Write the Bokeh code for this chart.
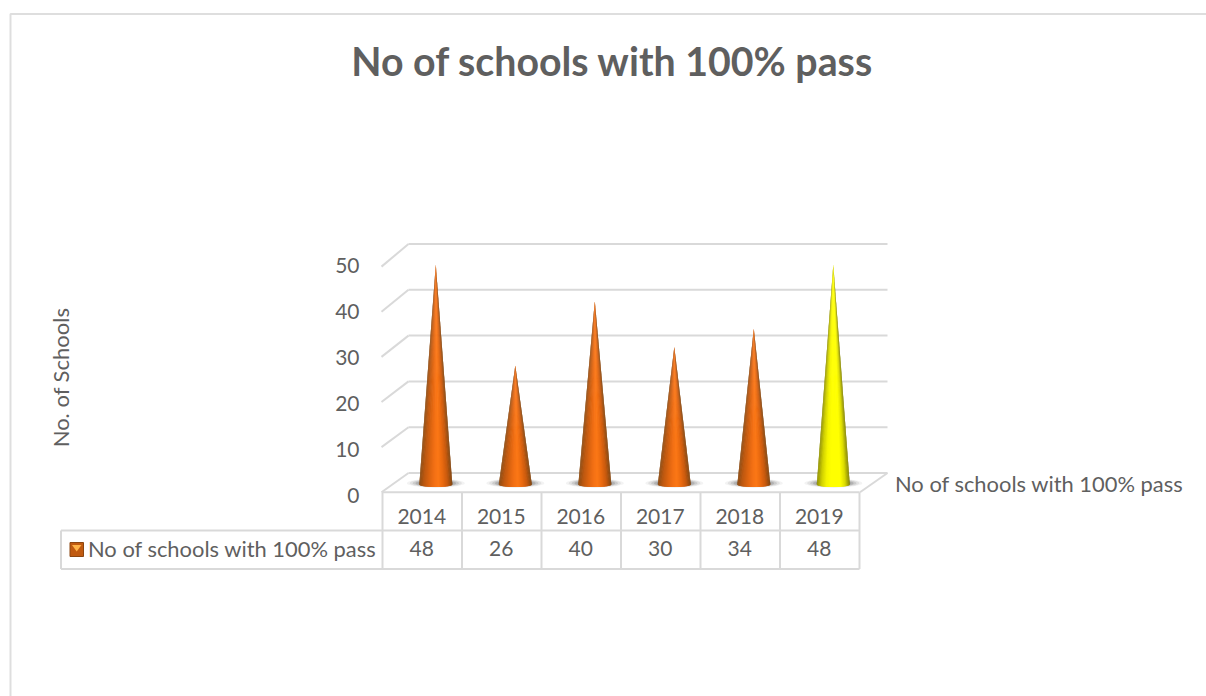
import numpy as np
from bokeh.plotting import figure
from bokeh.models import Range1d
from bokeh.core.properties import value
from bokeh.embed import file_html
from bokeh.resources import INLINE

TITLE = "No of schools with 100% pass"
SERIES = "No of schools with 100% pass"
Y_TITLE = "No. of Schools"
years = ["2014", "2015", "2016", "2017", "2018", "2019"]
schools = [48, 26, 40, 30, 34, 48]
y_ticks = [0, 10, 20, 30, 40, 50]

orange_stops = ["#8a4a10", "#bd5810", "#d96310", "#f06e14", "#fc7816", "#ea6a10", "#c85a0e", "#81430c"]
yellow_stops = ["#8f8f00", "#d0d000", "#f4f400", "#ffff00", "#ffff00", "#ffff00", "#dcdc00", "#858500"]
bar_stops = [orange_stops] * 5 + [yellow_stops]

W, H = 1206, 696
OFF = 0
GRID = "#d9d9d9"
TXT = "#5f5f5f"
FONT = value("Lato")
PX_CAT, CX0 = 79.5, 435.3
PX_VAL, BASE_Y = 4.58, 484.0

p = figure(width=W, height=H, output_backend="svg", toolbar_location=None,
           x_range=Range1d(OFF, OFF + W), y_range=Range1d(OFF + H, OFF),
           min_border=0, outline_line_color=None, background_fill_color="white",
           border_fill_color="white", x_axis_location=None, y_axis_location=None)
p.grid.visible = False
p.extra_x_ranges["cat"] = Range1d((OFF - CX0) / PX_CAT, (OFF + W - CX0) / PX_CAT)
p.extra_y_ranges["val"] = Range1d((BASE_Y - (OFF + H)) / PX_VAL, (BASE_Y - OFF) / PX_VAL)
VAL = dict(y_range_name="val")
BOTH = dict(x_range_name="cat", y_range_name="val")


def tx(px):
    return (px - CX0) / PX_CAT


def ty(px):
    return (BASE_Y - px) / PX_VAL


# chart frame
p.line([10, 10, OFF + W], [OFF + H, 13.5, 13.5], line_color="#dedede", line_width=2)

# back-wall gridlines and the side wall
back = [ty(472.5) + v for v in y_ticks]
front = [ty(491.7) + v * 0.985 for v in y_ticks]
p.multi_line([[tx(408), tx(887)] for _ in y_ticks], [[b, b] for b in back],
             line_color=GRID, line_width=2, **BOTH)
p.multi_line([[tx(381), tx(408)] for _ in y_ticks], [[f, b] for f, b in zip(front, back)],
             line_color=GRID, line_width=2, **BOTH)
# floor
p.line([tx(859.5), tx(887)], [front[0], back[0]], line_color=GRID, line_width=2, **BOTH)

# table
rows = [491.7, 530, 568.5]
cols = [382 + PX_CAT * i for i in range(len(years) + 1)]
p.multi_line([[c, c] for c in cols], [[rows[0], rows[2]] for _ in cols], line_color=GRID, line_width=2)
p.multi_line([[cols[0], cols[-1]], [60.5, cols[-1]], [60.5, cols[-1]]],
             [[rows[0]] * 2, [rows[1]] * 2, [rows[2]] * 2], line_color=GRID, line_width=2)
p.line([60.5, 60.5], [rows[1], rows[2]], line_color=GRID, line_width=2)

# base shadows
half_w = 16.5 / PX_CAT
for frac, alpha in [(1.0, 0.06), (0.9, 0.09), (0.8, 0.13), (0.7, 0.17), (0.6, 0.2)]:
    p.ellipse(list(range(len(years))), [0.3] * len(years),
              width=frac * 58 / PX_CAT, height=frac * 9 / PX_VAL,
              fill_color="#333333", fill_alpha=alpha, line_color=None, **BOTH)


def shade(stops, t):
    c = [np.array([int(s[i:i + 2], 16) for i in (1, 3, 5)], float) for s in stops]
    pos = (t + 1) / 2 * (len(c) - 1)
    j = min(int(pos), len(c) - 2)
    mix = c[j] + (c[j + 1] - c[j]) * (pos - j)
    return "#%02x%02x%02x" % tuple(int(round(m)) for m in mix)


# cones, shaded as thin overlapping strips from base to tip, painted left to right
n = 48
ell = 2.6 / PX_VAL
xs, ys, cs = [], [], []
for i, v in enumerate(schools):
    th = np.linspace(-np.pi / 2, np.pi / 2, n + 1)
    for k in range(n):
        e = min(k + 2, n)
        a, b = np.sin(th[k]), np.sin(th[e])
        xs.append([i + a * half_w, i + b * half_w, i])
        ys.append([-ell * np.cos(th[k]), -ell * np.cos(th[e]), v])
        cs.append(shade(bar_stops[i], (np.sin(th[k]) + np.sin(th[k + 1])) / 2))
p.patches(xs, ys, fill_color=cs, line_color=None, **BOTH)

# legend key
p.quad(left=[69.5], right=[83], top=[542], bottom=[556], fill_color="#c05a10", line_color="#8c4610", line_width=1)
p.patch([71.5, 81, 76.2], [544.5, 544.5, 551], fill_color="#ffb347", line_color=None)

# texts
p.text(x=[612], y=[59.5], text=[TITLE], text_font=FONT, text_font_size="39.3px", text_font_style="bold",
       text_color=TXT, text_align="center", text_baseline="middle")
p.text(x=[60], y=[377], text=[Y_TITLE], text_font=FONT, text_font_size="22px", angle=np.pi / 2,
       text_color=TXT, text_align="center", text_baseline="middle")
p.text(x=[359] * len(y_ticks), y=[ty(494.5) + v * 1.003 for v in y_ticks], text=[str(v) for v in y_ticks],
       text_font=FONT, text_font_size="21px", text_color=TXT, text_align="right", text_baseline="middle", **VAL)
p.text(x=[894.5], y=[482.5], text=[SERIES], text_font=FONT, text_font_size="21.9px", text_color=TXT,
       text_align="left", text_baseline="middle")
centers = [c + PX_CAT / 2 - 0.5 for c in cols[:-1]]
p.text(x=centers, y=[515.5] * len(years), text=years, text_font=FONT, text_font_size="21px",
       text_color=TXT, text_align="center", text_baseline="middle")
p.text(x=centers, y=[547.5] * len(years), text=[str(v) for v in schools], text_font=FONT,
       text_font_size="21px", text_color=TXT, text_align="center", text_baseline="middle")
p.text(x=[87.5], y=[547.5], text=[SERIES], text_font=FONT, text_font_size="21.9px", text_color=TXT,
       text_align="left", text_baseline="middle")

open("out.html", "w").write(file_html(p, INLINE))
